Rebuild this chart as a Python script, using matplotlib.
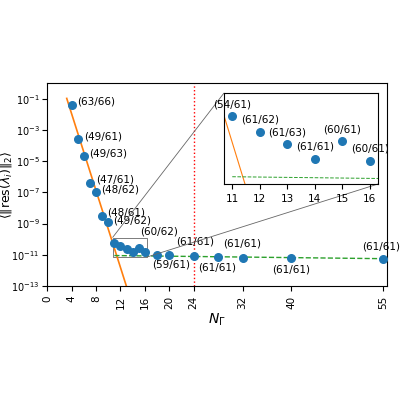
import numpy as np
import matplotlib
matplotlib.use("Agg")
import matplotlib.pyplot as plt
from mpl_toolkits.axes_grid1.inset_locator import mark_inset

N = [4,5,6,7,8,9,10,11,12,13,14,15,16,18,20,24,28,32,40,55]
logres = [-1.4,-3.6,-4.7,-6.4,-7.0,-8.5,-8.9,-10.22,-10.43,-10.6,-10.8,-10.56,-10.83,-11.0,-11.0,-11.1,-11.15,-11.2,-11.22,-11.3]
labels = ["(63/66)","(49/61)","(49/63)","(47/61)","(48/62)","(48/61)","(49/62)",
          "(54/61)","(61/62)","(61/63)","(61/61)","(60/61)","(60/62)",
          "(59/61)","(61/61)","","(61/61)","(61/61)","(61/61)","(61/61)"]
inset_labels = {11:"(54/61)",12:"(61/62)",13:"(61/63)",14:"(61/61)",15:"(60/61)",16:"(60/61)"}
# main-plot label offsets in pixels (None = not shown in main plot)
main_off = [(6,3,'left'),(6,3,'left'),(5,3,'left'),(6,3,'left'),(5,3,'left'),(5,3,'left'),(5,1,'left'),
            None,None,None,None,None,(-5,21,'left'),
            (-5,-10,'left'),(7,13,'left'),None,(-1,-10,'center'),(0,14,'center'),(0,-11,'center'),(-2,13,'center')]
fit_steep = (2.95, -1.23)
fit_flat = (-11.05, -0.2/44)
res = 10.0**np.array(logres)

fig = plt.figure(figsize=(4,4), dpi=100)
ax = fig.add_axes([0.118,0.285,0.85,0.5075])
ax.scatter(N, res, s=30, color='#1f77b4', zorder=3)
xs = np.linspace(3.2, 13.2, 50)
ax.plot(xs, 10**(fit_steep[0]+fit_steep[1]*xs), color='#ff7f0e', lw=1.2)
xf = np.linspace(11, 55, 50)
ax.plot(xf, 10**(fit_flat[0]+fit_flat[1]*(xf-11)), color='#2ca02c', ls='--', lw=1)
ax.axvline(24, color='red', ls=':', lw=1)
for x, y, t, o in zip(N, res, labels, main_off):
    if o is not None and t:
        ax.annotate(t, (x, y), xytext=(o[0], o[1]), textcoords='offset pixels', fontsize=7.5,
                    ha=o[2], va='center')
ax.set_yscale('log')
ax.set_ylim(1e-13, 1)
ax.set_xlim(0, 55.7)
ax.set_yticks([10.0**k for k in range(-13, 0, 2)])
ax.set_xticks([0,4,8,12,16,20,24,32,40,55])
ax.tick_params(axis='x', labelrotation=90, labelsize=7.5)
ax.tick_params(axis='y', labelsize=7, pad=2)
ax.set_xlabel(r'$N_\Gamma$', labelpad=2)
ax.set_ylabel(r'$\langle \Vert \mathrm{res}(\lambda_i)\Vert_2 \rangle$', fontsize=9)
ax.yaxis.set_label_coords(-0.097, 0.5)

axi = fig.add_axes([0.56,0.54,0.385,0.2275])
axi.scatter(N, res, s=30, color='#1f77b4', zorder=3)
axi.plot(xs, 10**(fit_steep[0]+fit_steep[1]*xs), color='#ff7f0e', lw=0.8)
axi.plot(xf, 10**(fit_flat[0]+fit_flat[1]*(xf-11)), color='#2ca02c', ls='--', lw=0.7)
for x, y in zip(N, res):
    if x in inset_labels:
        axi.annotate(inset_labels[x], (x, y), xytext=(0, 5), textcoords='offset points',
                     fontsize=7.5, ha='center', va='bottom')
axi.set_yscale('log')
axi.set_xlim(10.7, 16.3)
axi.set_ylim(10**-11.15, 10**-9.9)
axi.set_yticks([]); axi.set_yticks([], minor=True)
axi.set_xticks([11,12,13,14,15,16])
axi.tick_params(axis='x', labelsize=7.5)
mark_inset(ax, axi, loc1=2, loc2=4, fc='none', ec='0.4', lw=0.6)
fig.savefig('out.png', dpi=100)
